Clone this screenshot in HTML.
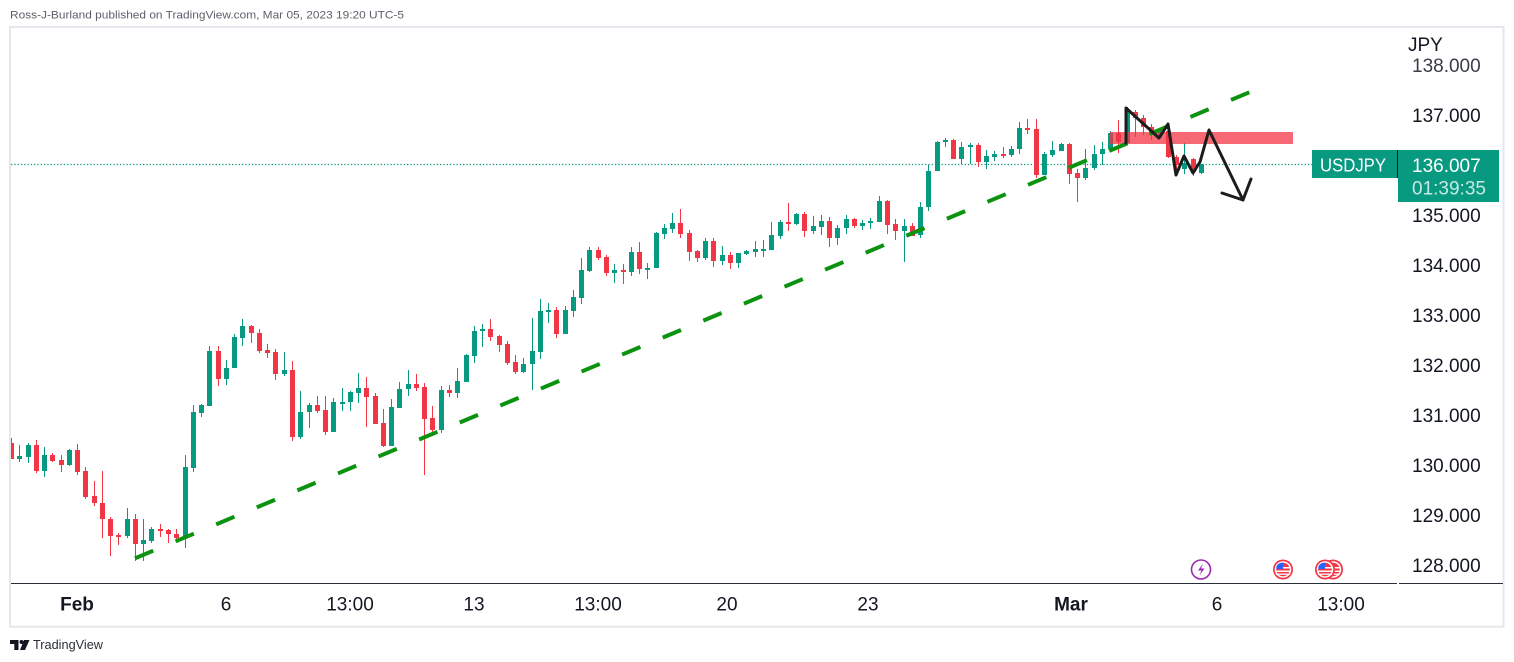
<!DOCTYPE html>
<html><head><meta charset="utf-8"><style>
html,body{margin:0;padding:0;background:#fff;}
svg{display:block;font-family:"Liberation Sans",sans-serif;}
</style></head><body>
<svg width="1514" height="662" viewBox="0 0 1514 662" xmlns="http://www.w3.org/2000/svg">
<rect x="0" y="0" width="1514" height="662" fill="#fff"/>
<text x="10" y="18.5" font-size="11" fill="#5d606b" textLength="394" lengthAdjust="spacingAndGlyphs">Ross-J-Burland published on TradingView.com, Mar 05, 2023 19:20 UTC-5</text>
<rect x="10" y="27" width="1493.5" height="599.7" fill="#fff" stroke="#e6e7ec" stroke-width="2"/>
<defs><clipPath id="cp"><rect x="11" y="28" width="1386" height="555"/></clipPath></defs>
<g clip-path="url(#cp)">
<line x1="11" y1="164.5" x2="1312" y2="164.5" stroke="#089981" stroke-width="1.3" stroke-dasharray="1.3 2"/>
<g shape-rendering="crispEdges">
<path fill="none" stroke="#089981" stroke-width="1" d="M19.5 445V462M28.5 443V463M44.5 447V477M69.5 449V466M127.5 508V538M143.5 519V561M151.5 527V543M185.5 455V548M193.5 405V472M201.5 404V417M209.5 346V406M226.5 360V385M234.5 334V368M242.5 319V346M284.5 352V376M300.5 391V439M309.5 403V428M333.5 398V432M342.5 388V411M350.5 391V411M358.5 373V403M391.5 399V446M399.5 382V408M408.5 370V396M441.5 386V433M457.5 368V398M466.5 354V382M474.5 326V363M482.5 324V347M523.5 358V373M532.5 318V390M540.5 299V359M548.5 303V323M565.5 306V334M573.5 290V317M581.5 258V304M589.5 247V272M614.5 264V283M631.5 247V276M647.5 263V279M656.5 232V268M664.5 224V239M672.5 213V233M705.5 238V260M722.5 246V265M738.5 253V268M746.5 250V255M755.5 241V257M763.5 240V257M771.5 222V250M780.5 220V239M796.5 213V225M813.5 216V234M821.5 215V235M837.5 225V245M846.5 215V234M862.5 220V230M870.5 218V229M879.5 196V222M904.5 219V262M920.5 202V238M928.5 165V211M937.5 141V171M945.5 138V147M961.5 142V164M970.5 143V164M986.5 150V169M994.5 151V161M1011.5 146V157M1019.5 122V154M1044.5 152V175M1052.5 141V157M1061.5 143V151M1085.5 149V180M1094.5 145V170M1102.5 142V165M1110.5 131V151M1127.5 107V143M1160.5 128V138M1184.5 143V174M1201.5 164V174"/>
<path fill="#089981" d="M17 456h5V459h-5ZM26 445h5V457h-5ZM42 455h5V471h-5ZM67 450h5V465h-5ZM125 519h5V536h-5ZM141 540h5V544h-5ZM149 529h5V541h-5ZM183 467h5V537h-5ZM191 412h5V468h-5ZM199 405h5V413h-5ZM207 351h5V406h-5ZM224 368h5V379h-5ZM232 337h5V368h-5ZM240 326h5V338h-5ZM282 370h5V374h-5ZM298 412h5V437h-5ZM307 405h5V412h-5ZM331 402h5V432h-5ZM340 402h5V404h-5ZM348 392h5V402h-5ZM356 388h5V393h-5ZM389 407h5V446h-5ZM397 389h5V408h-5ZM406 384h5V389h-5ZM439 390h5V430h-5ZM455 381h5V393h-5ZM464 355h5V382h-5ZM472 331h5V356h-5ZM480 329h5V331h-5ZM521 364h5V372h-5ZM530 351h5V364h-5ZM538 311h5V352h-5ZM546 310h5V312h-5ZM563 310h5V334h-5ZM571 297h5V311h-5ZM579 270h5V298h-5ZM587 250h5V271h-5ZM612 270h5V273h-5ZM629 252h5V272h-5ZM645 268h5V270h-5ZM654 233h5V268h-5ZM662 228h5V234h-5ZM670 223h5V229h-5ZM703 241h5V258h-5ZM720 255h5V261h-5ZM736 253h5V263h-5ZM744 251h5V254h-5ZM753 249h5V252h-5ZM761 249h5V251h-5ZM769 235h5V250h-5ZM778 222h5V236h-5ZM794 214h5V224h-5ZM811 226h5V231h-5ZM819 221h5V227h-5ZM835 228h5V238h-5ZM844 219h5V228h-5ZM860 223h5V226h-5ZM868 221h5V223h-5ZM877 201h5V222h-5ZM902 226h5V231h-5ZM918 207h5V235h-5ZM926 171h5V207h-5ZM935 142h5V171h-5ZM943 140h5V142h-5ZM959 147h5V159h-5ZM968 145h5V147h-5ZM984 156h5V162h-5ZM992 154h5V157h-5ZM1009 149h5V155h-5ZM1017 128h5V149h-5ZM1042 154h5V175h-5ZM1050 150h5V155h-5ZM1059 144h5V151h-5ZM1083 168h5V178h-5ZM1092 154h5V168h-5ZM1100 149h5V154h-5ZM1108 133h5V149h-5ZM1125 112h5V143h-5ZM1158 132h5V135h-5ZM1182 163h5V169h-5ZM1199 164h5V173h-5Z"/>
<path fill="none" stroke="#f23645" stroke-width="1" d="M11.5 438V459M36.5 440V473M52.5 453V462M61.5 455V472M77.5 444V475M85.5 467V499M94.5 481V506M102.5 471V538M110.5 517V556M118.5 533V545M135.5 514V561M160.5 524V537M168.5 529V543M176.5 529V542M218.5 346V386M251.5 325V343M259.5 329V353M267.5 344V358M275.5 349V380M292.5 361V441M317.5 396V413M325.5 396V435M366.5 377V427M375.5 393V424M383.5 409V447M416.5 374V391M424.5 383V475M432.5 406V436M449.5 385V397M490.5 319V341M499.5 335V352M507.5 341V365M515.5 355V374M556.5 307V338M598.5 247V260M606.5 255V276M623.5 264V284M639.5 242V274M680.5 209V238M689.5 230V261M697.5 250V262M713.5 238V267M730.5 252V269M788.5 203V231M804.5 212V237M829.5 217V247M854.5 218V228M887.5 200V234M895.5 219V240M912.5 223V236M953.5 139V159M978.5 143V167M1003.5 147V158M1027.5 119V134M1036.5 119V178M1069.5 143V184M1077.5 169V202M1118.5 120V153M1135.5 110V137M1143.5 115V135M1151.5 124V140M1168.5 128V158M1176.5 155V170M1193.5 158V176"/>
<path fill="#f23645" d="M9 443h5V459h-5ZM34 445h5V471h-5ZM50 455h5V461h-5ZM59 460h5V465h-5ZM75 450h5V472h-5ZM83 471h5V497h-5ZM92 496h5V503h-5ZM100 503h5V519h-5ZM108 519h5V536h-5ZM116 535h5V537h-5ZM133 519h5V544h-5ZM158 529h5V531h-5ZM166 530h5V534h-5ZM174 534h5V538h-5ZM216 351h5V379h-5ZM249 326h5V333h-5ZM257 333h5V351h-5ZM265 350h5V353h-5ZM273 352h5V374h-5ZM290 370h5V437h-5ZM315 405h5V411h-5ZM323 410h5V432h-5ZM364 388h5V397h-5ZM373 396h5V424h-5ZM381 423h5V446h-5ZM414 384h5V388h-5ZM422 387h5V419h-5ZM430 418h5V430h-5ZM447 390h5V393h-5ZM488 329h5V337h-5ZM497 336h5V345h-5ZM505 344h5V363h-5ZM513 362h5V372h-5ZM554 310h5V334h-5ZM596 250h5V258h-5ZM604 257h5V273h-5ZM621 270h5V272h-5ZM637 252h5V269h-5ZM678 223h5V234h-5ZM687 233h5V252h-5ZM695 251h5V258h-5ZM711 241h5V261h-5ZM728 255h5V263h-5ZM786 222h5V224h-5ZM802 214h5V231h-5ZM827 221h5V238h-5ZM852 219h5V226h-5ZM885 201h5V225h-5ZM893 224h5V231h-5ZM910 226h5V236h-5ZM951 140h5V159h-5ZM976 145h5V162h-5ZM1001 154h5V156h-5ZM1025 128h5V130h-5ZM1034 129h5V175h-5ZM1067 144h5V174h-5ZM1075 173h5V178h-5ZM1116 133h5V142h-5ZM1133 112h5V118h-5ZM1141 118h5V127h-5ZM1149 127h5V135h-5ZM1166 131h5V157h-5ZM1174 157h5V165h-5ZM1191 159h5V172h-5Z"/>
</g>
<rect x="1110" y="132" width="183" height="12" fill="#f23645" fill-opacity="0.75"/>
<line x1="135" y1="558.3" x2="1249.3" y2="92.3" stroke="#0b9310" stroke-width="4" stroke-dasharray="19.8 24.2"/>
<polyline points="1126,143 1126,108 1159,138 1168,124 1176,175 1184,156 1193,173 1200,162 1209,130 1243,200" fill="none" stroke="#1c1c1c" stroke-width="3" stroke-linejoin="round" stroke-linecap="round"/>
<polyline points="1222,193 1243,200 1251,179" fill="none" stroke="#1c1c1c" stroke-width="3" stroke-linejoin="round" stroke-linecap="round"/>
<!-- event icons -->
<circle cx="1201" cy="569.5" r="9.5" fill="#fff" stroke="#9c27b0" stroke-width="1.6"/>
<path d="M1203 563.5 L1198 570.5 H1201.5 L1199.5 575.5 L1204.5 568.5 H1201 Z" fill="#9c27b0"/>
<g id="flag1">
<circle cx="1333" cy="569.5" r="10" fill="#f23645"/><circle cx="1333" cy="569.5" r="8.3" fill="#fff"/><circle cx="1333" cy="569.5" r="6.8" fill="#f23645"/>
<rect x="1326" y="567" width="14" height="1.5" fill="#fff"/><rect x="1326" y="570.5" width="14" height="1.5" fill="#fff"/><rect x="1326" y="573.5" width="14" height="1.3" fill="#fff"/>
</g>
<circle cx="1283" cy="569.5" r="10" fill="#f23645"/><circle cx="1283" cy="569.5" r="8.3" fill="#fff"/><circle cx="1283" cy="569.5" r="6.8" fill="#f23645"/>
<rect x="1276" y="567" width="14" height="1.5" fill="#fff"/><rect x="1276" y="570.5" width="14" height="1.5" fill="#fff"/><rect x="1276" y="573.5" width="14" height="1.3" fill="#fff"/>
<path d="M1276.4 566.5 A6.8 6.8 0 0 1 1283 562.7 V569 H1276.3 Z" fill="#2962ff"/>
<circle cx="1325" cy="569.5" r="10" fill="#f23645"/><circle cx="1325" cy="569.5" r="8.3" fill="#fff"/><circle cx="1325" cy="569.5" r="6.8" fill="#f23645"/>
<rect x="1318" y="567" width="14" height="1.5" fill="#fff"/><rect x="1318" y="570.5" width="14" height="1.5" fill="#fff"/><rect x="1318" y="573.5" width="14" height="1.3" fill="#fff"/>
<path d="M1318.4 566.5 A6.8 6.8 0 0 1 1325 562.7 V569 H1318.3 Z" fill="#2962ff"/>
</g>
<!-- axes -->
<line x1="11" y1="583.5" x2="1397" y2="583.5" stroke="#2a2e39" stroke-width="1"/>
<line x1="1399" y1="583.5" x2="1503" y2="583.5" stroke="#2a2e39" stroke-width="1"/>
<g font-size="19" fill="#131722">
<text x="1408" y="51">JPY</text>
<text x="1412" y="72" fill="#3a3d47">138.000</text>
<text x="1412" y="122">137.000</text>
<text x="1412" y="222">135.000</text>
<text x="1412" y="272">134.000</text>
<text x="1412" y="322">133.000</text>
<text x="1412" y="372">132.000</text>
<text x="1412" y="422">131.000</text>
<text x="1412" y="472">130.000</text>
<text x="1412" y="522">129.000</text>
<text x="1412" y="572">128.000</text>
</g>
<g font-size="19" fill="#131722" text-anchor="middle">
<text x="77" y="610.5" font-weight="bold">Feb</text>
<text x="226" y="610.5">6</text>
<text x="350" y="610.5">13:00</text>
<text x="474" y="610.5">13</text>
<text x="598" y="610.5">13:00</text>
<text x="727" y="610.5">20</text>
<text x="868" y="610.5">23</text>
<text x="1071" y="610.5" font-weight="bold">Mar</text>
<text x="1217" y="610.5">6</text>
<text x="1341" y="610.5">13:00</text>
</g>
<!-- price labels -->
<rect x="1312" y="150" width="86" height="28" fill="#089981"/>
<rect x="1398" y="150" width="101" height="52" fill="#089981"/>
<line x1="1397.5" y1="150" x2="1397.5" y2="178" stroke="#131722" stroke-width="1"/>
<text x="1320" y="171.5" font-size="18" fill="#fff" textLength="66" lengthAdjust="spacingAndGlyphs">USDJPY</text>
<text x="1412" y="172" font-size="19" fill="#fff">136.007</text>
<text x="1412" y="194.5" font-size="19" fill="#fff" fill-opacity="0.78">01:39:35</text>
<!-- footer -->
<path d="M10 640h8.5v10h-4.2v-6h-4.3z" fill="#131722"/>
<circle cx="21.5" cy="642" r="2" fill="#131722"/>
<path d="M24 640h5.5l-4.5 10h-5z" fill="#131722"/>
<text x="33" y="649" font-size="12.5" fill="#2a2e39" textLength="70" lengthAdjust="spacingAndGlyphs">TradingView</text>
</svg>
</body></html>
